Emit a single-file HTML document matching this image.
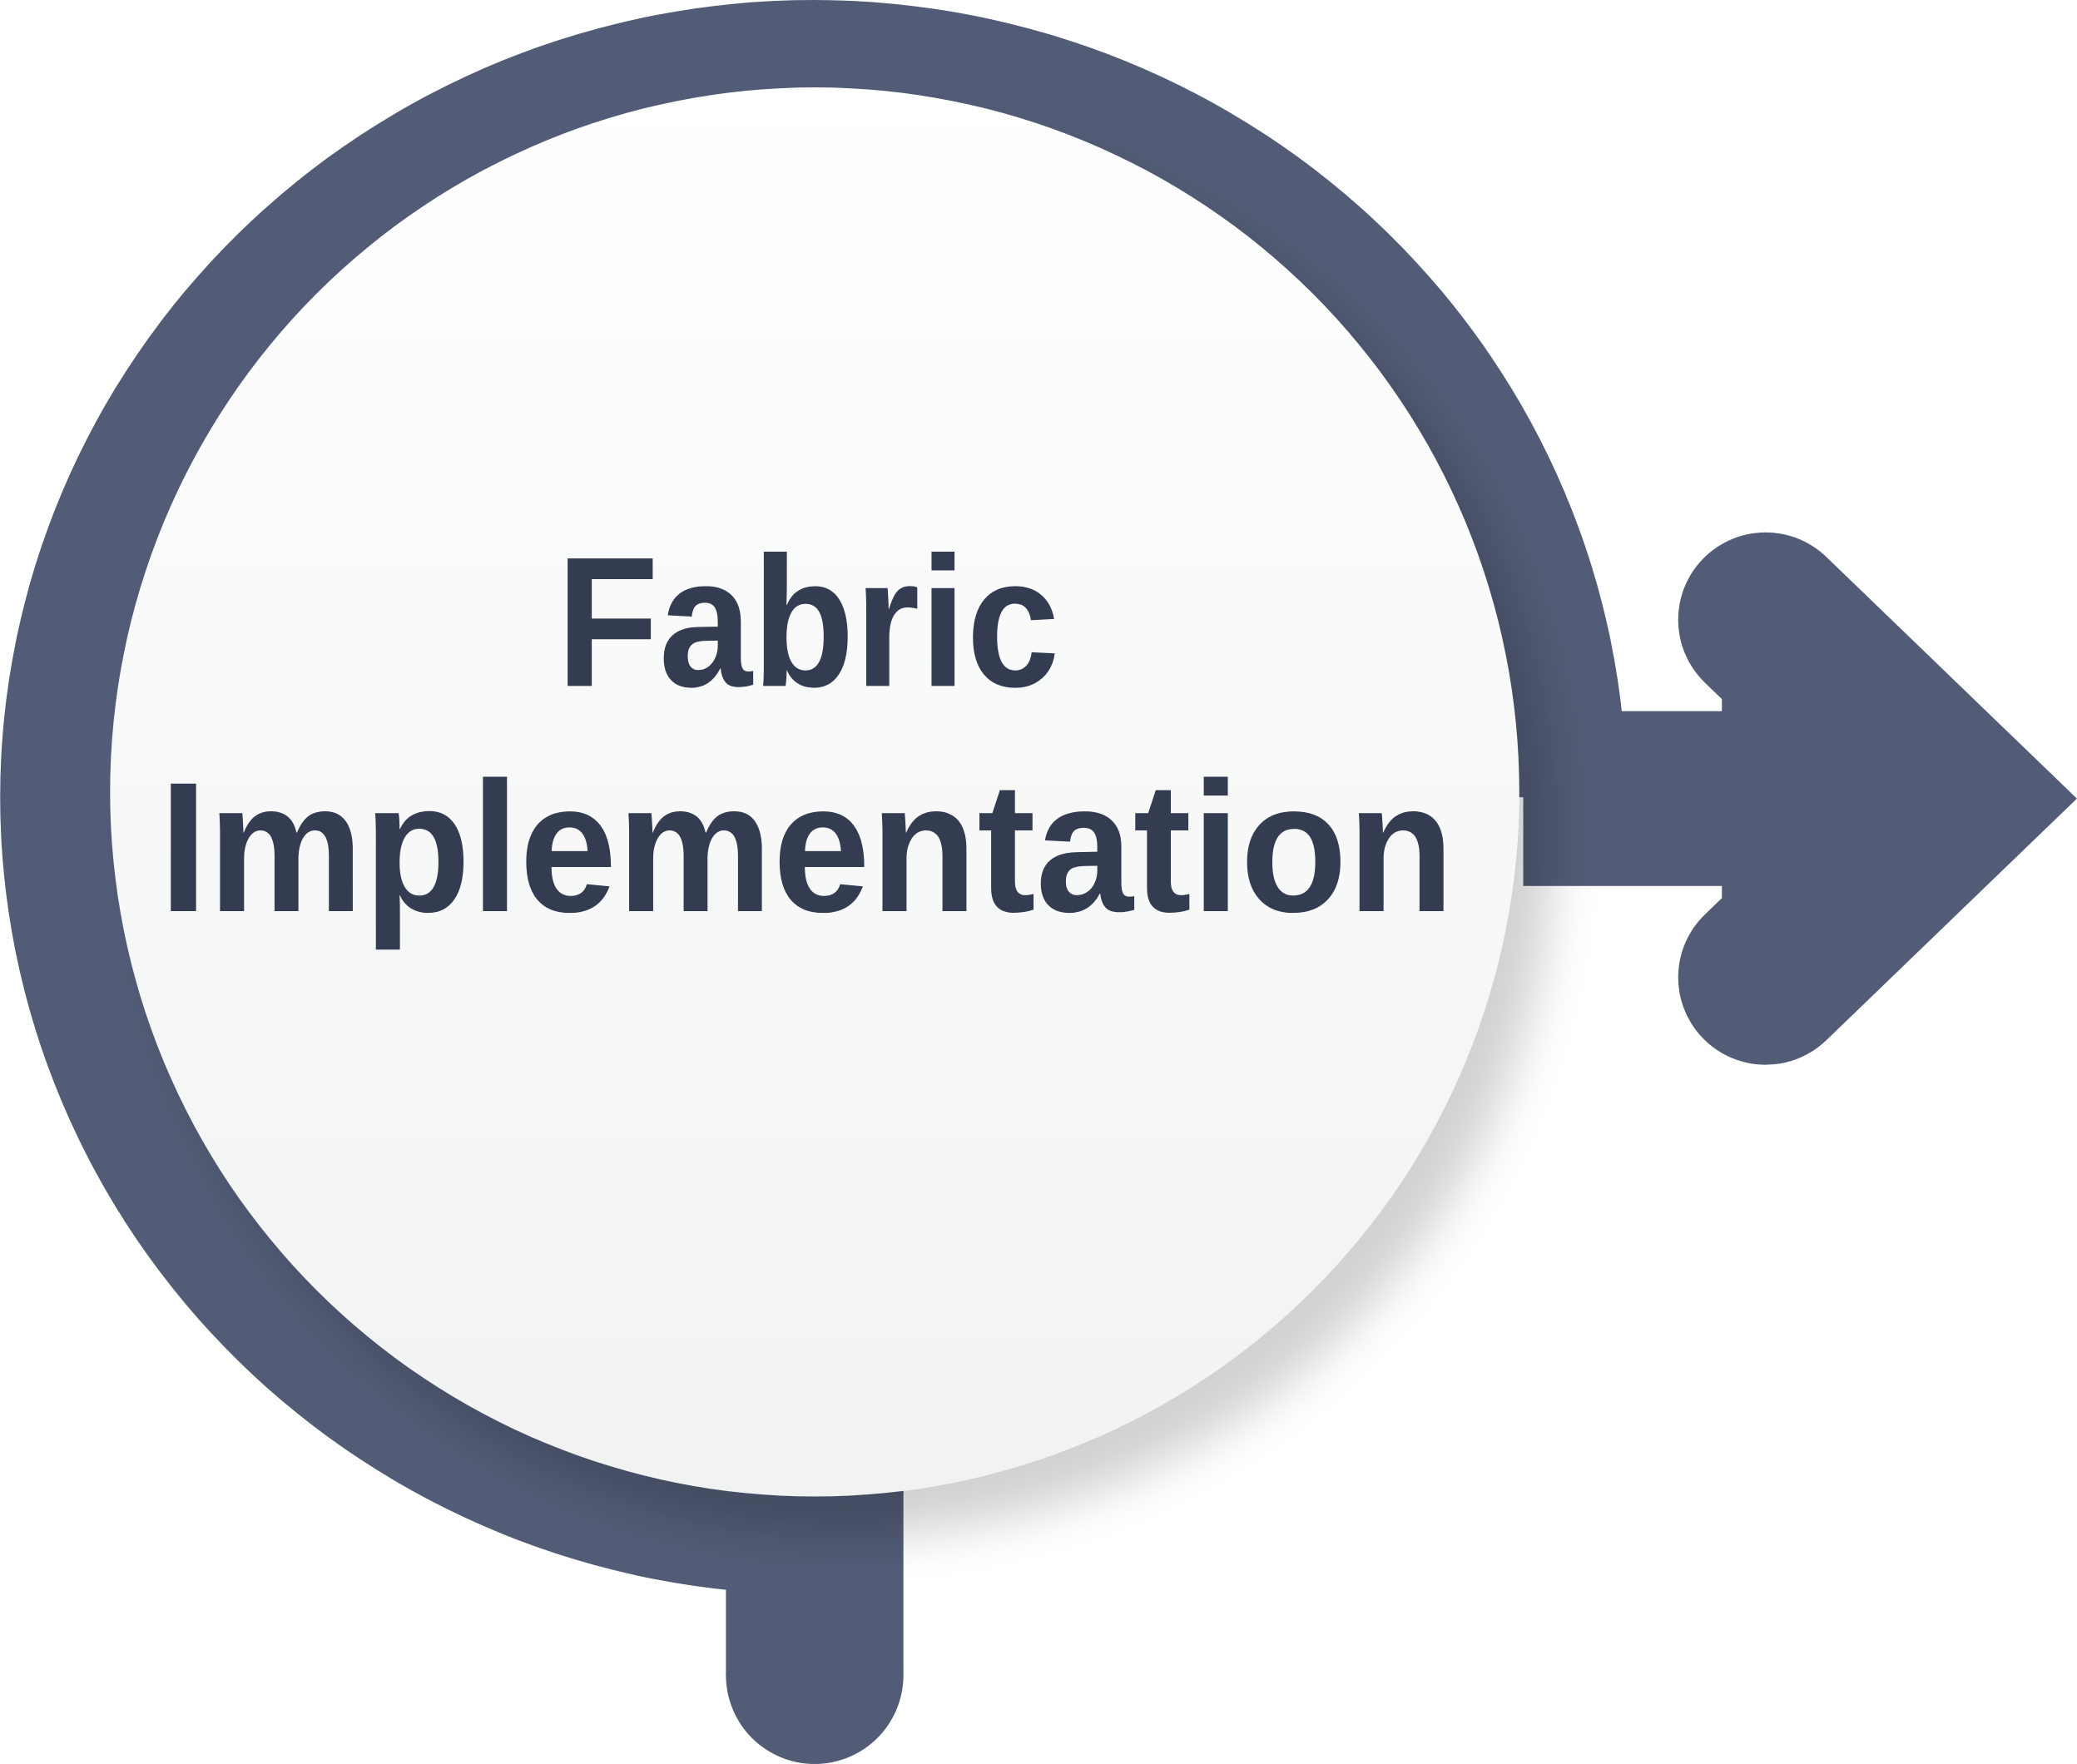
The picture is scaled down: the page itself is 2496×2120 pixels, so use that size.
<!DOCTYPE html>
<html><head><meta charset="utf-8"><style>html,body{margin:0;padding:0;background:#fff}svg{display:block}</style></head>
<body>
<svg width="2496" height="2120" viewBox="0 0 1568 1332" xmlns="http://www.w3.org/2000/svg">
<defs>
<linearGradient id="g" x1="0" y1="0" x2="0" y2="1">
<stop offset="0" stop-color="#ffffff"/><stop offset="1" stop-color="#f1f2f2"/>
</linearGradient>
<filter id="sh" x="-20%" y="-20%" width="150%" height="150%">
<feGaussianBlur in="SourceAlpha" stdDeviation="18"/>
<feOffset dx="26" dy="30"/>
<feComponentTransfer><feFuncA type="linear" slope="0.18"/></feComponentTransfer>
<feMerge><feMergeNode/><feMergeNode in="SourceGraphic"/></feMerge>
</filter>
</defs>
<g fill="#525c76" stroke="none">
<path d="M614,602 L614,1204 A614 602 0 1 1 1228 602 Z"/>
<rect x="1150" y="537" width="170" height="132"/>
<rect x="548" y="1100" width="134" height="165"/>
<ellipse cx="615" cy="1265" rx="67" ry="67"/>
<polygon points="1300,495 1500,603 1300,711"/>
</g>
<polyline points="1333,468 1473,603 1333,738" fill="none" stroke="#525c76" stroke-width="132" stroke-linecap="round" stroke-linejoin="miter" stroke-miterlimit="4"/>
<circle cx="615" cy="598" r="532" fill="url(#g)" filter="url(#sh)"/>
<g font-family="Liberation Sans, sans-serif" font-weight="bold" font-size="140" fill="#343c51" text-anchor="middle">
<text x="610" y="518" textLength="380" lengthAdjust="spacingAndGlyphs">Fabric</text>
<text x="609" y="688" textLength="978" lengthAdjust="spacingAndGlyphs">Implementation</text>
</g>
</svg>
</body></html>
